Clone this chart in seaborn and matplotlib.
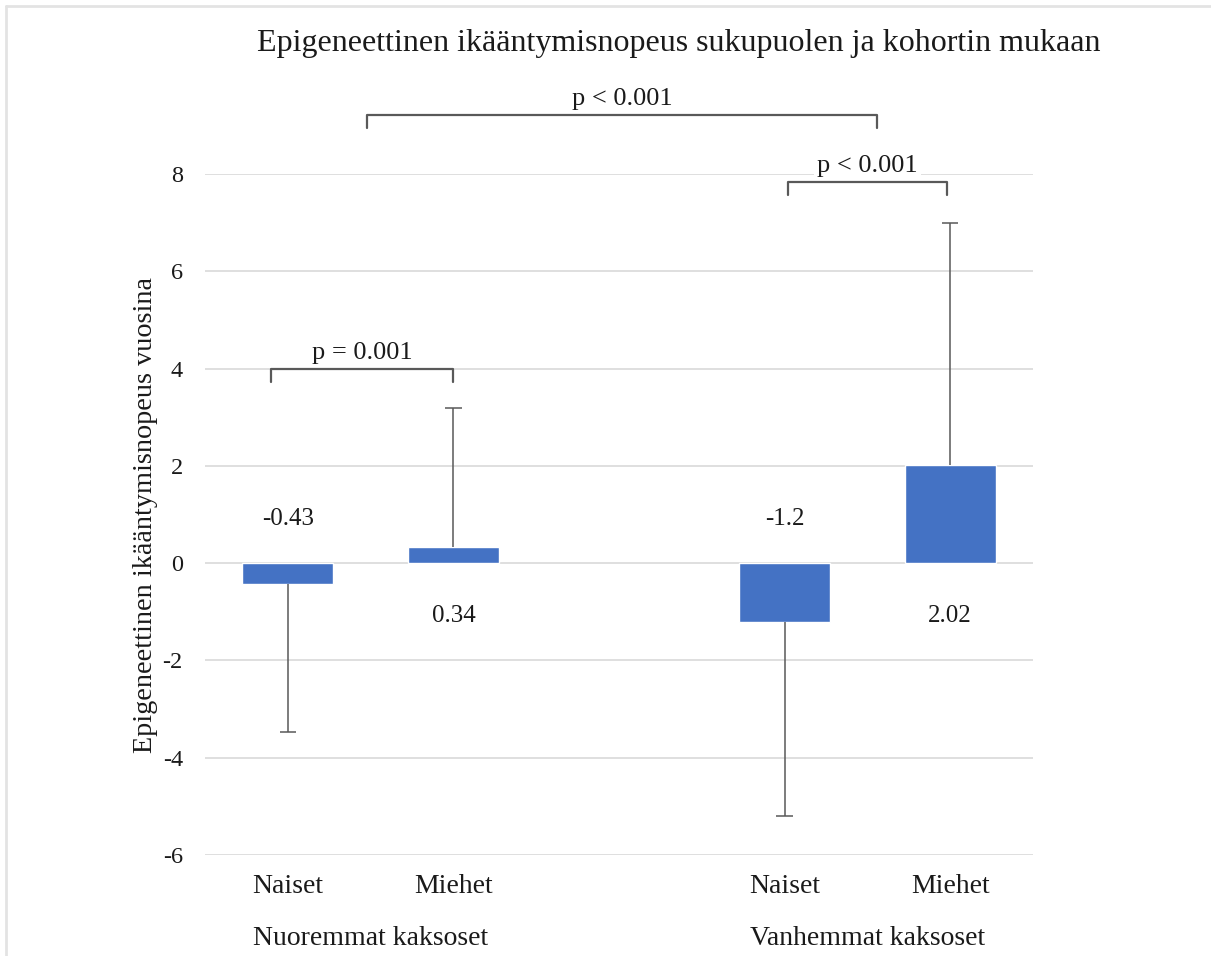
import matplotlib
matplotlib.use("Agg")
import matplotlib.pyplot as plt
from matplotlib.lines import Line2D
import seaborn as sns
import pandas as pd

# Data
cohorts = ["Nuoremmat kaksoset", "Vanhemmat kaksoset"]
sexes = ["Naiset", "Miehet"]
means = [-0.43, 0.34, -1.2, 2.02]          # mean epigenetic age acceleration (years)
sds = [3.05, 2.85, 4.0, 4.98]              # standard deviations
p_within = ["p = 0.001", "p < 0.001"]      # women vs men inside each cohort
p_between = "p < 0.001"                    # younger vs older cohort
y_ticks = [-6, -4, -2, 0, 2, 4, 6, 8]

keys = [f"{c}|{s}" for c in cohorts for s in sexes]
df = pd.DataFrame({"group": keys, "value": means})
order = keys[:2] + [" "] + keys[2:]        # empty slot separates the cohorts

sns.set_theme(style="white")
plt.rcParams["font.family"] = ["Liberation Serif", "DejaVu Serif"]
TXT = "#1a1a1a"
LINE = "#595959"

W, H = 1211, 956
fig = plt.figure(figsize=(W / 100, H / 100), dpi=100)
ax = fig.add_axes([205 / W, 1 - 855 / H, (1033 - 205) / W, (855 - 174) / H])

sns.barplot(data=df, x="group", y="value", order=order, color="#4472C4",
            saturation=1, width=0.55, errorbar=None, ax=ax, zorder=3)

ax.set_ylim(-6, 8)
ax.set_xlim(-0.5, 4.5)
ax.set_yticks(y_ticks)
ax.set_yticklabels([str(t) for t in y_ticks], fontsize=17.5, color=TXT)
ax.tick_params(axis="y", length=0, pad=16)
ax.tick_params(axis="x", length=0)
ax.set_xticks([])
ax.set_xlabel("")
ax.set_ylabel("")
ax.yaxis.grid(True, color="#d9d9d9", linewidth=1.2, zorder=0)
for sp in ax.spines.values():
    sp.set_visible(False)

# bar centres from the drawn patches
bars = [p for p in ax.patches if p.get_height() != 0]
xs = [p.get_x() + p.get_width() / 2 for p in bars]

# one-sided error bars pointing away from zero, plus value labels
for x, m, sd in zip(xs, means, sds):
    end = m - sd if m < 0 else m + sd
    ax.vlines(x, m, end, color=LINE, linewidth=1.1, zorder=4)
    ax.hlines(end, x - 0.05, x + 0.05, color=LINE, linewidth=1.1, zorder=4)
    off = 32 if m < 0 else -38
    ax.annotate(f"{m:g}", (x, 0), xytext=(0, off), textcoords="offset points",
                ha="center", va="center", fontsize=18, color=TXT)

# category labels under each bar and cohort labels under each pair
for x, k in zip(xs, keys):
    ax.text(x, -6.65, k.split("|")[1], ha="center", va="center",
            fontsize=20, color=TXT, clip_on=False)
for i, c in enumerate(cohorts):
    cx = (xs[2 * i] + xs[2 * i + 1]) / 2
    ax.annotate(c, (cx, -6), xytext=(0, -60), textcoords="offset points",
                ha="center", va="center", fontsize=20, color=TXT,
                annotation_clip=False)


def bracket(x0, x1, y, label, leg=0.27, white=False):
    ax.plot([x0, x0, x1, x1], [y - leg, y, y, y - leg], color=LINE,
            linewidth=1.6, clip_on=False, zorder=5)
    kw = dict(ha="center", va="bottom", fontsize=19, color=TXT,
              clip_on=False, zorder=6)
    if white:
        kw["bbox"] = dict(facecolor="white", edgecolor="none", pad=2)
    ax.text((x0 + x1) / 2, y + 0.1, label, **kw)


bracket(xs[0] - 0.1, xs[1], 4.0, p_within[0])
bracket(xs[2] + 0.02, xs[3] - 0.02, 7.83, p_within[1], white=True)
bracket(xs[0] + 0.48, xs[2] + 0.56, 9.21, p_between)

fig.text(145 / W, 1 - 515 / H, "Epigeneettinen ikääntymisnopeus vuosina",
         rotation=90, ha="center", va="center", fontsize=20.3, color=TXT)
fig.text(679 / W, 1 - 43 / H,
         "Epigeneettinen ikääntymisnopeus sukupuolen ja kohortin mukaan",
         ha="center", va="center", fontsize=23, color=TXT)

# light outer frame along the top and left edge
fig.add_artist(Line2D([6 / W, 6 / W], [0, 1 - 6 / H], color="#e3e3e3",
                      linewidth=2, transform=fig.transFigure))
fig.add_artist(Line2D([6 / W, 1], [1 - 6 / H, 1 - 6 / H], color="#e3e3e3",
                      linewidth=2, transform=fig.transFigure))

fig.savefig("out.png", dpi=100, facecolor="white")
